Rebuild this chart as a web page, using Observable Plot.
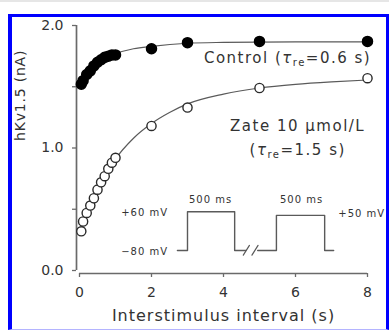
<!DOCTYPE html>
<html><head><meta charset="utf-8">
<script src="https://cdn.jsdelivr.net/npm/d3@7"></script>
<script src="https://cdn.jsdelivr.net/npm/@observablehq/plot@0.6"></script>
<style>
html,body{margin:0;padding:0;background:#fff;}
body{width:389px;height:330px;position:relative;overflow:hidden;font-family:"DejaVu Sans",sans-serif;}
#topline{position:absolute;left:0;top:0;width:389px;height:2px;background:#e6e6e6;}
#chart{position:absolute;left:0;top:0;}
#frame{position:absolute;left:8px;top:14px;width:381px;height:316px;box-sizing:border-box;
  border-left:4px solid #0000ff;border-top:3px solid #0000ff;border-right:3px solid #0000ff;border-bottom:1px solid #b4b4ff;
  pointer-events:none;z-index:2;}
</style>
</head><body>
<div id="topline"></div>
<div id="chart"></div>
<div id="frame"></div>
<script>
// Interstimulus intervals (s)
const intervals = [0.05, 0.1, 0.2, 0.3, 0.4, 0.5, 0.6, 0.7, 0.8, 0.9, 1.0, 2, 3, 5, 8];
// hKv1.5 current (nA)
const controlValues = [1.52, 1.55, 1.60, 1.63, 1.67, 1.70, 1.72, 1.74, 1.75, 1.76, 1.76, 1.81, 1.86, 1.87, 1.87];
const zateValues = [0.32, 0.40, 0.47, 0.53, 0.59, 0.66, 0.72, 0.77, 0.83, 0.88, 0.92, 1.18, 1.33, 1.49, 1.57];

// fitted curves
const controlFitT = [0.05, 0.25, 0.5, 0.75, 1, 1.5, 2, 3, 4, 5, 6, 8];
const controlFitY = [1.52, 1.61, 1.69, 1.74, 1.77, 1.81, 1.83, 1.855, 1.862, 1.865, 1.866, 1.866];
const zateFitT = [0.05, 0.25, 0.5, 0.75, 1, 1.5, 2, 2.5, 3, 4, 5, 6, 7, 8];
const zateFitY = [0.33, 0.49, 0.65, 0.79, 0.91, 1.08, 1.20, 1.29, 1.36, 1.44, 1.49, 1.52, 1.54, 1.555];

// axis ticks
const xTicks = [0, 2, 4, 6, 8];
const yTicks = [0, 0.5, 1, 1.5, 2];
const xLabel = "Interstimulus interval (s)";
const yLabel = "hKv1.5 (nA)";

// series labels
const controlLabel = "Control (τre=0.6 s)";
const zateLabel1 = "Zate 10 μmol/L";
const zateLabel2 = "(τre=1.5 s)";

// inset stimulation protocol (drawn in the chart's data space)
const pulse1T = [2.72, 3.0, 3.0, 4.31, 4.31, 4.62];
const pulse1V = [0.163, 0.163, 0.48, 0.48, 0.163, 0.163];
const pulse2T = [4.95, 5.47, 5.47, 6.81, 6.81, 7.06];
const pulse2V = [0.163, 0.163, 0.45, 0.45, 0.163, 0.163];
const slashT = [[4.55, 4.72], [4.79, 4.96]];
const slashV = [0.125, 0.205];
const insetLabels = ["+60 mV", "−80 mV", "500 ms", "500 ms", "+50 mV"];
const insetLabelT = [2.46, 2.46, 3.64, 6.17, 7.19];
const insetLabelV = [0.47, 0.155, 0.575, 0.575, 0.46];
const insetAnchor = ["end", "end", "middle", "middle", "start"];

const control = intervals.map((t, i) => ({t, v: controlValues[i]}));
const zate = intervals.map((t, i) => ({t, v: zateValues[i]}));
const controlFit = controlFitT.map((t, i) => ({t, v: controlFitY[i]}));
const zateFit = zateFitT.map((t, i) => ({t, v: zateFitY[i]}));
const pulses = [
  ...pulse1T.map((t, i) => ({t, v: pulse1V[i], s: 1})),
  ...pulse2T.map((t, i) => ({t, v: pulse2V[i], s: 2}))
];
const slashes = slashT.flatMap((pair, k) => pair.map((t, i) => ({t, v: slashV[i], s: k})));
const insetText = insetLabels.map((text, i) => ({text, t: insetLabelT[i], v: insetLabelV[i], a: insetAnchor[i]}));

const textColor = "#333";
const lineColor = "#5a5a5a";

const chart = Plot.plot({
  width: 386, height: 329,
  marginLeft: 79, marginRight: 19, marginTop: 25, marginBottom: 59,
  x: {domain: [0, 8]},
  y: {domain: [0, 2]},
  style: {fontFamily: "DejaVu Sans, sans-serif", background: "transparent", overflow: "hidden"},
  marks: [
    Plot.ruleX([0], {y1: 0, y2: 2, dx: -3, stroke: "#6a6a6a", strokeWidth: 1.7}),
    Plot.ruleY([0], {x1: 0, x2: 8, dy: 3, stroke: "#6a6a6a", strokeWidth: 1.7}),
    Plot.axisY({ticks: yTicks, tickFormat: d => Number.isInteger(d) ? d.toFixed(1) : "",
      tickSize: 4, tickPadding: 9, dx: -3, stroke: "#6a6a6a", fill: textColor, fontSize: 14, label: null, strokeWidth: 1.3}),
    Plot.axisX({ticks: xTicks, tickFormat: d => String(d),
      tickSize: 4, tickPadding: 10, dy: 3, stroke: "#6a6a6a", fill: textColor, fontSize: 14, label: null, strokeWidth: 1.3}),
    Plot.text([xLabel], {frameAnchor: "bottom", dy: 50, fontSize: 16, fill: textColor}),
    Plot.text([yLabel], {frameAnchor: "left", rotate: -90, dx: -59, dy: -7, fontSize: 14, fill: textColor}),
    // fitted curves
    Plot.line(controlFit, {x: "t", y: "v", stroke: lineColor, strokeWidth: 1.2, curve: "monotone-x"}),
    Plot.line(zateFit, {x: "t", y: "v", stroke: lineColor, strokeWidth: 1.2, curve: "monotone-x"}),
    // data points
    Plot.dot(zate, {x: "t", y: "v", r: 4.6, fill: "white", stroke: "#2a2a2a", strokeWidth: 1.4}),
    Plot.dot(control, {x: "t", y: "v", r: 5, fill: "black", stroke: "black"}),
    // series labels
    Plot.text([controlLabel], {x: () => 5.78, y: () => 1.73, fontSize: 15, fill: textColor}),
    Plot.text([zateLabel1], {x: () => 6.06, y: () => 1.18, fontSize: 15, fill: textColor}),
    Plot.text([zateLabel2], {x: () => 6.06, y: () => 0.98, fontSize: 15, fill: textColor}),
    // inset protocol
    Plot.line(pulses, {x: "t", y: "v", z: "s", stroke: lineColor, strokeWidth: 1.4}),
    Plot.line(slashes, {x: "t", y: "v", z: "s", stroke: lineColor, strokeWidth: 1.2}),
    Plot.text(insetText.filter(d => d.a === "end"), {x: "t", y: "v", text: "text", textAnchor: "end", fontSize: 10, fill: textColor}),
    Plot.text(insetText.filter(d => d.a === "middle"), {x: "t", y: "v", text: "text", textAnchor: "middle", fontSize: 10, fill: textColor}),
    Plot.text(insetText.filter(d => d.a === "start"), {x: "t", y: "v", text: "text", textAnchor: "start", fontSize: 10, fill: textColor})
  ]
});
document.getElementById("chart").appendChild(chart);

const svg = d3.select(chart);
const spacing = new Map([
  [xLabel, "1px"], [yLabel, "0.8px"],
  [controlLabel, "1.5px"], [zateLabel1, "1.5px"], [zateLabel2, "1.5px"],
  ...insetLabels.map(s => [s, "1px"])
]);
svg.selectAll("text").each(function() {
  const s = this.textContent;
  if (spacing.has(s)) d3.select(this).style("letter-spacing", spacing.get(s));
});
// italic tau with subscript "re"
svg.selectAll("text").each(function() {
  const el = d3.select(this);
  const s = this.textContent;
  const k = s.indexOf("τre");
  if (k < 0 || this.querySelector("tspan")) return;
  const before = s.slice(0, k), after = s.slice(k + 3);
  el.text(null);
  el.append("tspan").text(before);
  el.append("tspan").attr("font-style", "italic").text("τ");
  el.append("tspan").attr("font-size", "10px").attr("dy", "3").text("re");
  el.append("tspan").attr("dy", "-3").text(after);
});
</script>
</body></html>
